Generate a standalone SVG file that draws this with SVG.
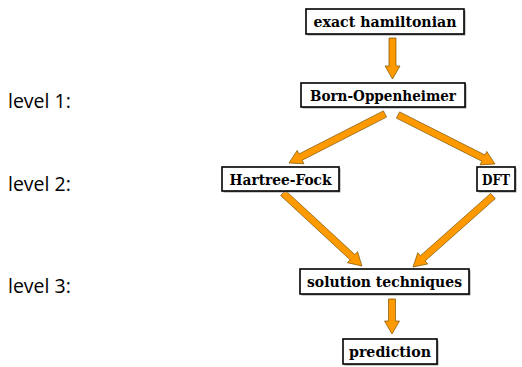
<svg xmlns="http://www.w3.org/2000/svg" width="522" height="367" viewBox="0 0 522 367">
<style>
.box{fill:#fff;stroke:#000;stroke-width:1.6}
.sh{fill:#9a9a9a}
.t{font-family:"DejaVu Serif",serif;font-weight:bold;font-size:15px;fill:#000;text-anchor:middle}
.lv{font-family:"Open Sans","Noto Sans",sans-serif;font-size:19.5px;fill:#000}
.ar{fill:#FF9900;stroke:#7a5200;stroke-width:0.7;stroke-linejoin:miter}
</style>
<rect width="522" height="367" fill="#fff"/>
<g id="levels">
<text class="lv" x="8" y="108">level 1:</text>
<text class="lv" x="8" y="191">level 2:</text>
<text class="lv" x="8" y="293">level 3:</text>
</g>
<g id="connectors">
<polygon class="ar" points="389,38 389,66 385,66 392.5,79 400,66 396,66 396,38"/>
<polygon class="ar" points="383.41,110.88 298.99,153.97 297.17,150.41 289,163 303.99,163.77 302.17,160.21 386.59,117.12"/>
<polygon class="ar" points="396.42,118.12 481.82,161.26 480.02,164.83 495,164 486.78,151.44 484.98,155.01 399.58,111.88"/>
<polygon class="ar" points="280.63,195.57 350.08,259.75 347.36,262.69 362,266 357.54,251.67 354.83,254.61 285.38,190.43"/>
<polygon class="ar" points="490.68,193.38 420.40,255.75 417.74,252.76 413,267 427.70,263.98 425.04,260.99 495.32,198.62"/>
<polygon class="ar" points="388.5,299 388.5,321 384.5,321 392,334 399.5,321 395.5,321 395.5,299"/>
</g>
<g id="exact">
<rect class="sh" x="307.5" y="10.5" width="158" height="25"/>
<rect class="box" x="306" y="9" width="158" height="25"/>
<text class="t" x="385" y="26.5" textLength="143" lengthAdjust="spacingAndGlyphs">exact hamiltonian</text>
</g>
<g id="born">
<rect class="sh" x="302.5" y="84.5" width="164" height="24"/>
<rect class="box" x="301" y="83" width="164" height="24"/>
<text class="t" x="383" y="100.5" textLength="146" lengthAdjust="spacingAndGlyphs">Born-Oppenheimer</text>
</g>
<g id="hf">
<rect class="sh" x="223.5" y="168.5" width="117" height="24"/>
<rect class="box" x="222" y="167" width="117" height="24"/>
<text class="t" x="280.5" y="184.5" textLength="102" lengthAdjust="spacingAndGlyphs">Hartree-Fock</text>
</g>
<g id="dft">
<rect class="sh" x="478.5" y="168.5" width="38" height="24"/>
<rect class="box" x="477" y="167" width="38" height="24"/>
<text class="t" x="496" y="184.5" textLength="28" lengthAdjust="spacingAndGlyphs">DFT</text>
</g>
<g id="solution">
<rect class="sh" x="301.5" y="270.5" width="169" height="25"/>
<rect class="box" x="300" y="269" width="169" height="25"/>
<text class="t" x="384.5" y="286.5" textLength="155" lengthAdjust="spacingAndGlyphs">solution techniques</text>
</g>
<g id="prediction">
<rect class="sh" x="344.5" y="340.5" width="94" height="25"/>
<rect class="box" x="343" y="339" width="94" height="25"/>
<text class="t" x="390" y="356.5" textLength="82" lengthAdjust="spacingAndGlyphs">prediction</text>
</g>
</svg>
